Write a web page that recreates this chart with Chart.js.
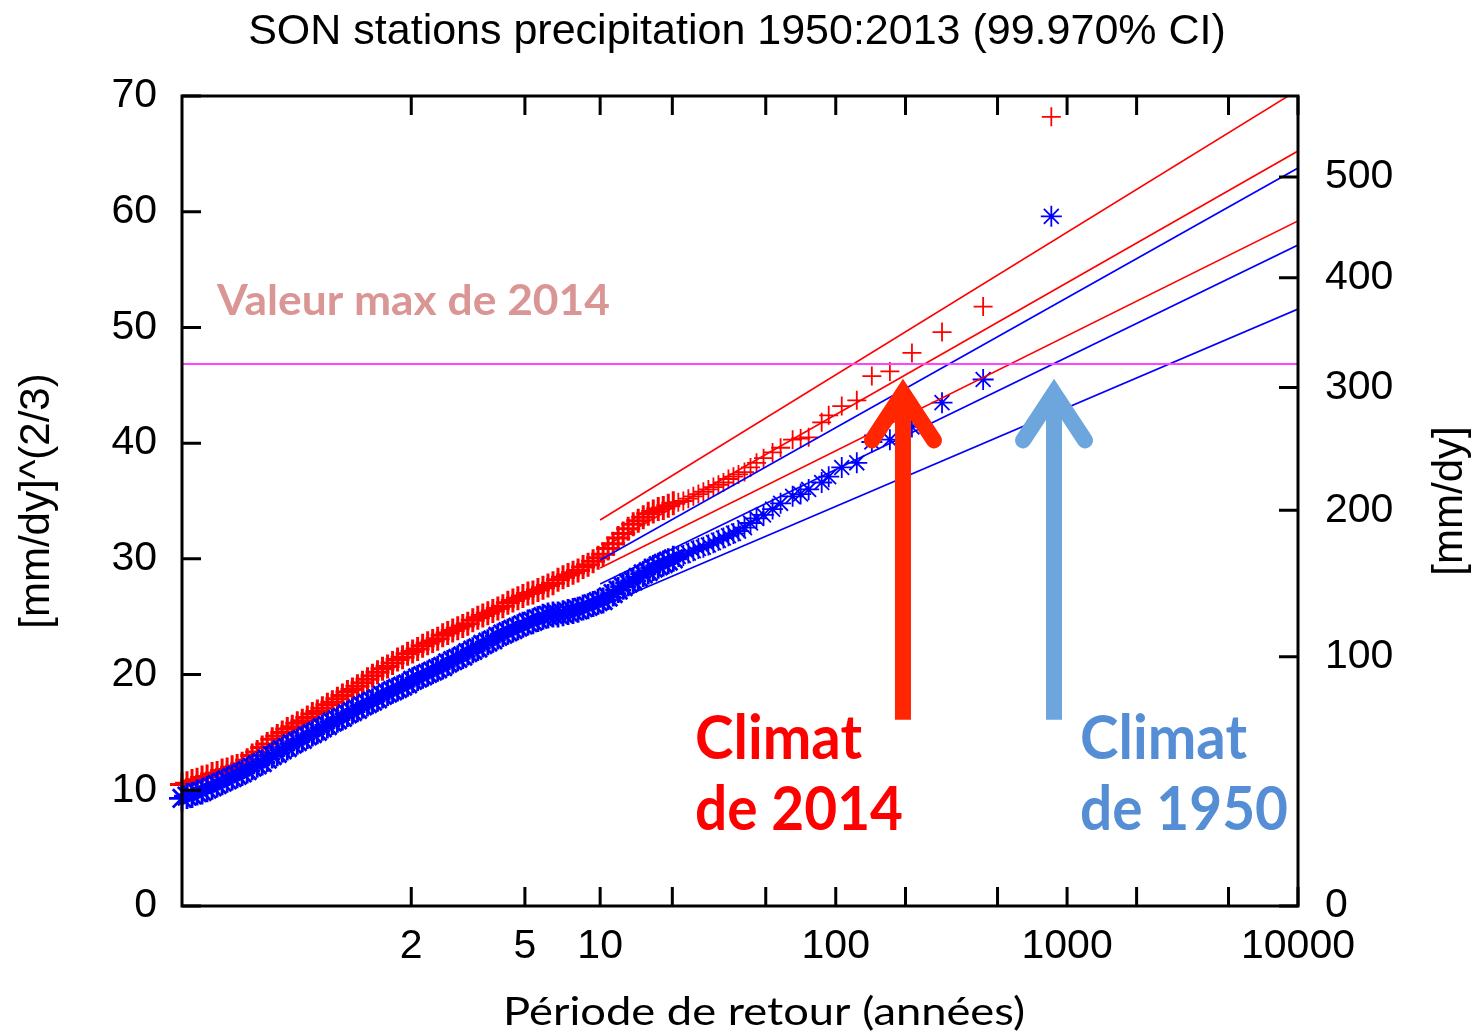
<!DOCTYPE html>
<html>
<head>
<meta charset="utf-8">
<script src="https://cdn.jsdelivr.net/npm/chart.js@4"></script>
<style>
  html, body { margin: 0; padding: 0; background: #fff; }
  #wrap { width: 1474px; height: 1035px; }
</style>
</head>
<body>
<div id="wrap"><canvas id="gumbelChart"></canvas></div>
<script>
// return periods (years) on the Gumbel axis
const periodTicks = [2, 5, 10, 20, 50, 100, 200, 500, 1000, 2000, 5000, 10000];
const periodLabels = [2, 5, 10, 100, 1000, 10000];
// right axis in mm/dy, left axis is (mm/dy)^(2/3)
const mmTicks = [0, 100, 200, 300, 400, 500];

// Gumbel reduced variate of each ranked value (shared by both climates)
const gumbelX = [
  -1.92, -1.87, -1.82, -1.77, -1.72, -1.67, -1.62, -1.57,
  -1.52, -1.47, -1.42, -1.37, -1.32, -1.27, -1.22, -1.17,
  -1.12, -1.07, -1.02, -0.97, -0.92, -0.87, -0.82, -0.77,
  -0.72, -0.67, -0.62, -0.57, -0.52, -0.47, -0.42, -0.37,
  -0.32, -0.27, -0.22, -0.17, -0.12, -0.07, -0.02, 0.03,
  0.08, 0.13, 0.18, 0.23, 0.28, 0.33, 0.38, 0.43,
  0.48, 0.53, 0.58, 0.63, 0.68, 0.73, 0.78, 0.83,
  0.88, 0.93, 0.98, 1.03, 1.08, 1.13, 1.18, 1.23,
  1.28, 1.33, 1.38, 1.43, 1.48, 1.53, 1.58, 1.63,
  1.68, 1.73, 1.78, 1.83, 1.88, 1.93, 1.98, 2.03,
  2.08, 2.13, 2.18, 2.23, 2.28, 2.33, 2.38, 2.43,
  2.48, 2.53, 2.58, 2.63, 2.68, 2.73, 2.78, 2.83,
  2.88, 2.93, 2.98, 3.03, 3.08, 3.13, 3.18, 3.23,
  3.28, 3.33, 3.38, 3.43, 3.48, 3.53, 3.58, 3.63,
  3.69, 3.75, 3.81, 3.88, 3.97, 4.05, 4.17, 4.25,
  4.33, 4.46, 4.53, 4.66, 4.81, 4.96, 5.14, 5.36,
  5.66, 6.07, 6.75
];

// climate of 2014, [mm/dy]^(2/3)
const climat2014 = [
  10.5, 10.6, 10.8, 10.9, 11.1, 11.2, 11.4, 11.5,
  11.7, 11.8, 12.0, 12.1, 12.3, 12.6, 13.0, 13.3,
  13.7, 14.0, 14.4, 14.7, 15.0, 15.3, 15.5, 15.8,
  16.0, 16.3, 16.6, 16.8, 17.1, 17.4, 17.6, 17.9,
  18.2, 18.5, 18.7, 19.0, 19.3, 19.6, 19.9, 20.2,
  20.5, 20.7, 21.0, 21.3, 21.5, 21.8, 22.0, 22.2,
  22.5, 22.7, 22.9, 23.1, 23.4, 23.6, 23.8, 24.0,
  24.2, 24.4, 24.7, 24.9, 25.1, 25.3, 25.5, 25.7,
  25.9, 26.2, 26.4, 26.6, 26.8, 27.0, 27.1, 27.3,
  27.5, 27.7, 27.9, 28.2, 28.4, 28.6, 28.8, 29.0,
  29.3, 29.5, 29.8, 30.1, 30.4, 30.9, 31.3, 31.8,
  32.2, 32.6, 33.0, 33.3, 33.6, 33.9, 34.1, 34.3,
  34.4, 34.6, 34.8, 34.9, 35.0, 35.2, 35.4, 35.6,
  35.8, 36.0, 36.2, 36.4, 36.6, 36.9, 37.1, 37.3,
  37.5, 37.9, 38.3, 38.7, 39.2, 39.6, 40.3, 40.4,
  40.5, 41.8, 42.4, 43.2, 43.7, 45.8, 46.2, 47.8,
  49.6, 51.8, 68.2
];

// climate of 1950, [mm/dy]^(2/3)
const climat1950 = [
  9.3, 9.5, 9.6, 9.8, 9.9, 10.1, 10.3, 10.5,
  10.7, 10.9, 11.1, 11.3, 11.5, 11.7, 12.0, 12.2,
  12.4, 12.7, 13.0, 13.2, 13.5, 13.7, 14.0, 14.2,
  14.4, 14.7, 14.9, 15.1, 15.4, 15.6, 15.9, 16.1,
  16.3, 16.6, 16.8, 17.0, 17.3, 17.5, 17.7, 17.9,
  18.2, 18.4, 18.6, 18.8, 19.0, 19.2, 19.5, 19.7,
  19.9, 20.1, 20.3, 20.5, 20.7, 21.0, 21.2, 21.4,
  21.6, 21.9, 22.1, 22.3, 22.6, 22.8, 23.0, 23.3,
  23.5, 23.7, 23.9, 24.1, 24.3, 24.5, 24.6, 24.8,
  25.0, 25.1, 25.2, 25.2, 25.3, 25.4, 25.5, 25.6,
  25.8, 25.9, 26.1, 26.3, 26.4, 26.7, 27.0, 27.3,
  27.6, 27.9, 28.1, 28.4, 28.7, 28.9, 29.2, 29.4,
  29.6, 29.8, 30.0, 30.2, 30.3, 30.5, 30.7, 30.9,
  31.0, 31.2, 31.4, 31.6, 31.8, 32.0, 32.2, 32.4,
  32.7, 33.1, 33.5, 33.8, 34.3, 34.8, 35.4, 35.6,
  36.0, 36.6, 37.1, 37.9, 38.3, 40.1, 40.3, 41.4,
  43.5, 45.5, 59.6
];

// fitted return levels (upper CI, fit, lower CI) at T = 10 and T = 10000
const fitPeriods = [10, 10000];
const fit2014 = [[33.36, 70.52], [30.85, 65.25], [29.21, 59.20]];
const fit1950 = [[29.90, 63.78], [27.83, 57.12], [25.84, 51.59]];

const max2014 = 46.84;
// arrows: return period pointed at, and [foot, head] in [mm/dy]^(2/3)
const arrowPeriods = [195, 878];
const arrowSpan = [16.1, 44.3];

const gumbel = T => -Math.log(-Math.log(1 - 1 / T));
const xMin = -1.92;
const xMax = gumbel(10000);
const TICK = 19;

const toPoints = ys => gumbelX.map((x, i) => ({ x: x, y: ys[i] }));
const fitLine = (pair, color) => ({
  data: fitPeriods.map((T, i) => ({ x: gumbel(T), y: pair[i] })),
  showLine: true, borderColor: color, borderWidth: 1.6, pointRadius: 0
});
// the crowded low return periods overlap into a wide solid band
const crowded = ctx => ctx.raw && ctx.raw.x < 3;
const byCrowding = (dense, sparse) => ctx => (crowded(ctx) ? dense : sparse);

function fitText(ctx, text, left, baseline, width) {
  const w = ctx.measureText(text).width;
  ctx.save();
  ctx.translate(left, baseline);
  ctx.scale(width / w, 1);
  ctx.fillText(text, 0, 0);
  ctx.restore();
}

function drawArrow(ctx, px, yFoot, yHead, color) {
  ctx.save();
  ctx.strokeStyle = color;
  ctx.lineWidth = 16;
  ctx.lineCap = 'butt';
  ctx.beginPath();
  ctx.moveTo(px, yFoot);
  ctx.lineTo(px, yHead + 8);
  ctx.stroke();
  ctx.lineCap = 'round';
  ctx.lineJoin = 'miter';
  ctx.beginPath();
  ctx.moveTo(px - 31, yHead + 47);
  ctx.lineTo(px, yHead);
  ctx.lineTo(px + 31, yHead + 47);
  ctx.stroke();
  ctx.restore();
}

const frameAndNotes = {
  id: 'frameAndNotes',
  afterDatasetsDraw(chart) {
    const { ctx, chartArea: a, scales } = chart;
    const x = scales.x, y = scales.y, y2 = scales.y2;
    ctx.save();

    // frame and inward ticks
    ctx.strokeStyle = '#000';
    ctx.lineWidth = 3;
    ctx.strokeRect(a.left, a.top, a.right - a.left, a.bottom - a.top);
    ctx.beginPath();
    periodTicks.forEach(T => {
      const px = x.getPixelForValue(gumbel(T));
      ctx.moveTo(px, a.bottom); ctx.lineTo(px, a.bottom - TICK);
      ctx.moveTo(px, a.top); ctx.lineTo(px, a.top + TICK);
    });
    y.ticks.forEach(t => {
      const py = y.getPixelForValue(t.value);
      ctx.moveTo(a.left, py); ctx.lineTo(a.left + TICK, py);
    });
    mmTicks.forEach(v => {
      const py = y2.getPixelForValue(Math.pow(v, 2 / 3));
      ctx.moveTo(a.right, py); ctx.lineTo(a.right - TICK, py);
    });
    ctx.stroke();

    // axis titles
    ctx.fillStyle = '#000';
    ctx.font = '42px "Liberation Sans", Arial, sans-serif';
    ctx.textAlign = 'center';
    ctx.textBaseline = 'middle';
    ctx.save();
    ctx.translate(37, (a.top + a.bottom) / 2);
    ctx.rotate(-Math.PI / 2);
    ctx.fillText('[mm/dy]^(2/3)', 0, 0);
    ctx.restore();
    ctx.save();
    ctx.translate(1450, (a.top + a.bottom) / 2);
    ctx.rotate(-Math.PI / 2);
    ctx.fillText('[mm/dy]', 0, 0);
    ctx.restore();

    ctx.textAlign = 'left';
    ctx.textBaseline = 'alphabetic';
    ctx.font = '38px Lato, "Open Sans", sans-serif';
    fitText(ctx, 'Période de retour (années)', 503, 1025, 522);

    // arrows at the return period of the 2014 maximum
    const yFoot = y.getPixelForValue(arrowSpan[0]);
    const yHead = y.getPixelForValue(arrowSpan[1]);
    drawArrow(ctx, x.getPixelForValue(gumbel(arrowPeriods[0])), yFoot, yHead, '#ff2600');
    drawArrow(ctx, x.getPixelForValue(gumbel(arrowPeriods[1])), yFoot, yHead, '#6ca6dc');

    // labels
    ctx.font = 'bold 42px Lato, "Open Sans", sans-serif';
    ctx.fillStyle = '#d99694';
    fitText(ctx, 'Valeur max de 2014', 217, 315, 393);

    ctx.font = 'bold 61px Lato, "Open Sans", sans-serif';
    ctx.fillStyle = '#ff0000';
    fitText(ctx, 'Climat', 695, 759, 167);
    fitText(ctx, 'de 2014', 695, 830, 208);
    ctx.fillStyle = '#558ed5';
    fitText(ctx, 'Climat', 1080, 759, 167);
    fitText(ctx, 'de 1950', 1080, 830, 208);

    ctx.restore();
  }
};

Chart.defaults.font.family = '"Liberation Sans", Arial, sans-serif';
Chart.defaults.color = '#000';

new Chart(document.getElementById('gumbelChart'), {
  type: 'scatter',
  data: {
    datasets: [
      {
        data: [{ x: xMin, y: max2014 }, { x: xMax, y: max2014 }],
        showLine: true, borderColor: '#ff44ff', borderWidth: 2.2, pointRadius: 0
      },
      fitLine(fit2014[0], '#ff0000'),
      fitLine(fit2014[1], '#ff0000'),
      fitLine(fit2014[2], '#ff0000'),
      fitLine(fit1950[0], '#0000ff'),
      fitLine(fit1950[1], '#0000ff'),
      fitLine(fit1950[2], '#0000ff'),
      {
        data: toPoints(climat1950),
        pointStyle: 'star', pointRadius: byCrowding(13, 10.5), borderColor: '#0000ff',
        backgroundColor: '#0000ff', pointBorderWidth: byCrowding(2.8, 1.8), clip: false
      },
      {
        data: toPoints(climat2014),
        pointStyle: 'cross', pointRadius: byCrowding(12, 9.5), borderColor: '#ff0000',
        backgroundColor: '#ff0000', pointBorderWidth: byCrowding(3, 1.8), clip: false
      }
    ]
  },
  options: {
    responsive: true,
    maintainAspectRatio: false,
    animation: false,
    events: [],
    layout: { padding: 0 },
    plugins: {
      legend: { display: false },
      tooltip: { enabled: false },
      title: {
        display: true,
        text: 'SON stations precipitation 1950:2013 (99.970% CI)',
        font: { size: 43, weight: 'normal' },
        color: '#000',
        padding: { top: 6, bottom: 38.4 }
      }
    },
    scales: {
      x: {
        type: 'linear',
        min: xMin,
        max: xMax,
        grid: { display: false, drawTicks: false },
        border: { display: false },
        afterBuildTicks: scale => {
          scale.ticks = periodTicks.map(T => ({ value: gumbel(T) }));
        },
        afterFit: scale => { scale.height = 129; },
        ticks: {
          autoSkip: false,
          maxRotation: 0,
          padding: 16,
          font: { size: 41 },
          callback: (v, i) => periodLabels.includes(periodTicks[i]) ? String(periodTicks[i]) : ''
        }
      },
      y: {
        position: 'left',
        min: 0,
        max: 70,
        grid: { display: false, drawTicks: false },
        border: { display: false },
        afterFit: scale => { scale.width = 182; },
        ticks: { stepSize: 10, padding: 25, font: { size: 41 } }
      },
      y2: {
        position: 'right',
        min: 0,
        max: 70,
        grid: { display: false, drawTicks: false },
        border: { display: false },
        afterBuildTicks: scale => {
          scale.ticks = mmTicks.map(v => ({ value: Math.pow(v, 2 / 3) }));
        },
        afterFit: scale => { scale.width = 176; },
        ticks: {
          padding: 27,
          font: { size: 41 },
          callback: (v, i) => String(mmTicks[i])
        }
      }
    }
  },
  plugins: [frameAndNotes]
});
</script>
</body>
</html>
